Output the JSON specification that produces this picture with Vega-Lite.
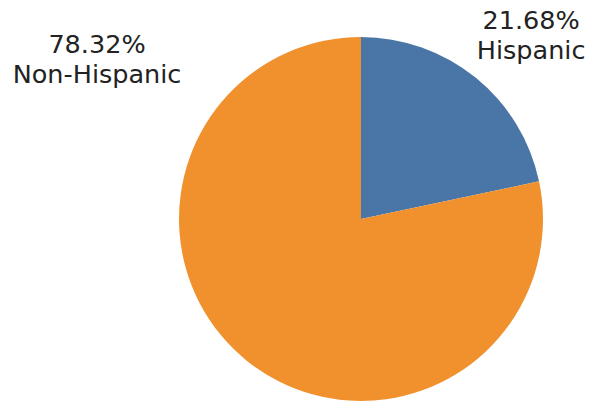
{
  "$schema": "https://vega.github.io/schema/vega-lite/v6.json",
  "width": 364,
  "height": 364,
  "autosize": {"type": "none"},
  "padding": {"left": 179, "top": 37, "right": 47, "bottom": 2},
  "background": "white",
  "view": {"stroke": null},
  "data": {
    "values": [
      {"ethnicity": "Hispanic", "value": 21.68, "label": ["21.68%", "Hispanic"]},
      {"ethnicity": "Non-Hispanic", "value": 78.32, "label": ["78.32%", "Non-Hispanic"]}
    ]
  },
  "encoding": {
    "theta": {"field": "value", "type": "quantitative", "stack": true},
    "order": {"field": "ethnicity", "type": "nominal", "sort": "ascending"}
  },
  "layer": [
    {
      "mark": {"type": "arc", "stroke": null},
      "encoding": {
        "color": {
          "field": "ethnicity",
          "type": "nominal",
          "scale": {"domain": ["Hispanic", "Non-Hispanic"], "range": ["#4a76a7", "#f0912d"]},
          "legend": null
        }
      }
    },
    {
      "transform": [{"filter": "datum.ethnicity === 'Hispanic'"}],
      "mark": {"type": "text", "radius": 240, "dx": 19, "dy": -12, "font": "DejaVu Sans", "fontSize": 25.5, "lineHeight": 30, "color": "#222222", "align": "center", "baseline": "middle"},
      "encoding": {"text": {"field": "label"}}
    },
    {
      "transform": [{"filter": "datum.ethnicity === 'Non-Hispanic'"}],
      "mark": {"type": "text", "radius": 0, "dx": -264, "dy": -174, "font": "DejaVu Sans", "fontSize": 25.5, "lineHeight": 30, "color": "#222222", "align": "center", "baseline": "middle"},
      "encoding": {"text": {"field": "label"}}
    }
  ]
}
